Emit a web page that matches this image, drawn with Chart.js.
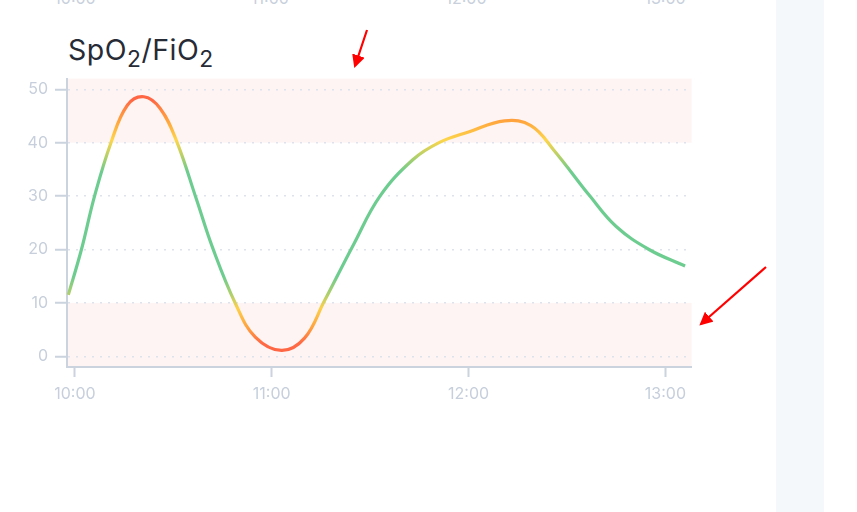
<!DOCTYPE html>
<html>
<head>
<meta charset="utf-8">
<script src="https://cdn.jsdelivr.net/npm/chart.js@4.4.1/dist/chart.umd.min.js"></script>
<style>
  html, body { margin: 0; padding: 0; background: #fff; }
  body { width: 857px; height: 512px; position: relative; overflow: hidden; font-family: Inter, "Noto Sans", sans-serif; }
  .side { position: absolute; left: 776px; top: 0; width: 48px; height: 512px; background: #f4f8fb; }
  .title { position: absolute; left: 68px; top: 32px; font-size: 28.5px; color: #262b36; letter-spacing: 0.5px; }
  .title .s { font-size: 0.8em; position: relative; top: 0.3em; }
  .prev { position: absolute; top: -12px; font-size: 16px; color: #c8d0dc; transform: translateX(-50%); }
  .wrap { position: absolute; left: 0; top: 62px; width: 694px; height: 356px; }
  svg { position: absolute; left: 0; top: 0; }
</style>
</head>
<body>
<div class="side"></div>
<span class="prev" style="left:75px">10:00</span>
<span class="prev" style="left:270px">11:00</span>
<span class="prev" style="left:466px">12:00</span>
<span class="prev" style="left:665px">13:00</span>
<div class="title">SpO<span class="s">2</span>/FiO<span class="s">2</span></div>
<div class="wrap"><canvas id="chart"></canvas></div>
<svg width="857" height="512">
  <defs>
    <marker id="head" markerWidth="6" markerHeight="6" refX="5" refY="3" orient="auto" markerUnits="strokeWidth">
      <path d="M0,0 L6,3 L0,6 z" fill="#ff0000"/>
    </marker>
  </defs>
  <line x1="367" y1="30" x2="355" y2="66" stroke="#ff0000" stroke-width="2.2" marker-end="url(#head)"/>
  <line x1="766" y1="267" x2="701" y2="324" stroke="#ff0000" stroke-width="2.2" marker-end="url(#head)"/>
</svg>
<script>
// readings (HH:MM) and SpO2/FiO2 values
const times = ['09:58','10:02','10:06','10:11','10:16','10:21','10:26','10:31','10:37','10:42','10:49','10:55',
  '11:03','11:10','11:16','11:25','11:33','11:43','11:51','12:00','12:11','12:19','12:26','12:37','12:45','12:55','13:06'];
const values = [11.5, 20, 30, 40, 47, 48.6, 46.4, 40.3, 29.5, 20.3, 9.8, 3.6,
  1.1, 3.4, 10.3, 21, 30, 36.8, 40, 42, 44.1, 43.2, 38.6, 30, 24.3, 20, 16.9];
const yTicks = [0, 10, 20, 30, 40, 50];
const lowLimit = 10, highLimit = 40;

const toMin = t => { const [h, m] = t.split(':').map(Number); return (h - 10) * 60 + m; };
const fmt = v => { const h = 10 + Math.floor(v / 60), m = Math.round(v - (h - 10) * 60); return h + ':' + String(m).padStart(2, '0'); };
const points = times.map((t, i) => ({ x: toMin(t), y: values[i] }));

const axisColor = '#cbd3de';
const labelColor = '#c6cfdb';

// pink bands out of range
const bands = {
  id: 'bands',
  beforeDraw(chart) {
    const { ctx, chartArea: a, scales: { y } } = chart;
    ctx.save();
    ctx.fillStyle = '#fdf4f3';
    const hi = y.getPixelForValue(highLimit);
    ctx.fillRect(a.left, a.top, a.right - a.left, hi - a.top);
    const lo = y.getPixelForValue(lowLimit);
    ctx.fillRect(a.left, lo, a.right - a.left, a.bottom - lo);
    ctx.restore();
  }
};

function lineColor(context) {
  const chart = context.chart;
  const { ctx, chartArea, scales } = chart;
  if (!chartArea) return '#6dcc8f';
  const y = scales.y;
  const top = y.getPixelForValue(y.max), bot = y.getPixelForValue(y.min);
  const g = ctx.createLinearGradient(0, top, 0, bot);
  const off = v => Math.min(1, Math.max(0, (y.max - v) / (y.max - y.min)));
  g.addColorStop(off(48), '#ff6644');
  g.addColorStop(off(46), '#ff8a41');
  g.addColorStop(off(43.5), '#ffac3e');
  g.addColorStop(off(40.5), '#fdd54a');
  g.addColorStop(off(37), '#a9cf6d');
  g.addColorStop(off(34.5), '#6dcc8f');
  g.addColorStop(off(15), '#6dcc8f');
  g.addColorStop(off(11.5), '#b2d06b');
  g.addColorStop(off(9), '#fdd04a');
  g.addColorStop(off(5.5), '#ffa43f');
  g.addColorStop(off(2.5), '#ff6a45');
  g.addColorStop(off(0), '#ff6443');
  return g;
}

new Chart(document.getElementById('chart'), {
  type: 'line',
  data: {
    datasets: [{
      data: points,
      borderColor: lineColor,
      borderWidth: 3.2,
      pointRadius: 0,
      tension: 0.4,
      fill: false
    }]
  },
  options: {
    responsive: true,
    maintainAspectRatio: false,
    animation: false,
    layout: { padding: 0 },
    plugins: { legend: { display: false }, tooltip: { enabled: false } },
    scales: {
      x: {
        type: 'linear',
        min: -2.4,
        max: 188,
        afterFit(s) { s.height = 51; },
        afterBuildTicks(s) { s.ticks = [0, 60, 120, 180].map(v => ({ value: v })); },
        ticks: { color: labelColor, font: { family: 'Inter', size: 16 }, padding: 8, maxRotation: 0, callback: v => fmt(v) },
        grid: { drawOnChartArea: false, drawTicks: true, tickLength: 10, tickColor: axisColor, tickWidth: 2 },
        border: { color: axisColor, width: 2 }
      },
      y: {
        min: -2,
        max: 52,
        afterFit(s) { s.width = 67; },
        afterBuildTicks(s) { s.ticks = yTicks.map(v => ({ value: v })); },
        ticks: { color: labelColor, font: { family: 'Inter', size: 16 }, padding: 7 },
        grid: { color: '#dde2eb', lineWidth: 1.5, drawTicks: true, tickLength: 12, tickColor: axisColor, tickWidth: 2 },
        border: { color: axisColor, width: 2, dash: [2, 6] }
      }
    }
  },
  plugins: [bands]
});
</script>
</body>
</html>
